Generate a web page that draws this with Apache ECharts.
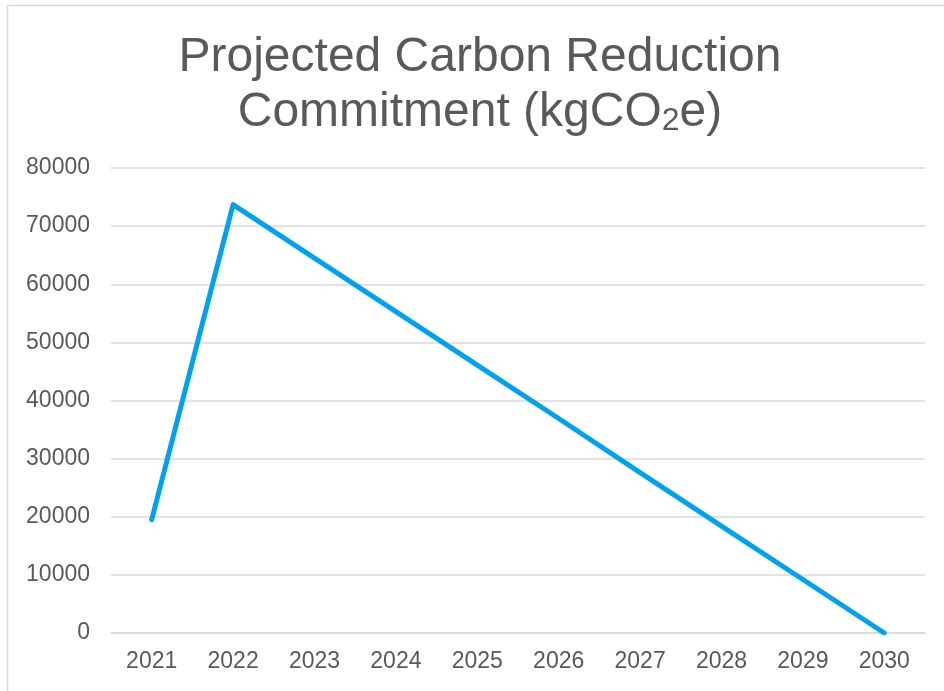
<!DOCTYPE html>
<html>
<head>
<meta charset="utf-8">
<script src="https://cdn.jsdelivr.net/npm/echarts@6/dist/echarts.min.js"></script>
<style>
  html, body { margin: 0; padding: 0; background: #fff; }
  #chart { width: 944px; height: 691px; }
</style>
</head>
<body>
<div id="chart"></div>
<script>
// years on the x axis
const years = ['2021', '2022', '2023', '2024', '2025', '2026', '2027', '2028', '2029', '2030'];
// projected reduction, kgCO2e
const reduction = [19500, 73700, 64500, 55300, 46100, 36900, 27600, 18400, 9200, 0];
const yTicks = [0, 10000, 20000, 30000, 40000, 50000, 60000, 70000, 80000];

const grey = '#595959';
const chart = echarts.init(document.getElementById('chart'));

chart.setOption({
    animation: false,
    backgroundColor: '#fff',
    textStyle: { fontFamily: 'Liberation Sans, Arial, sans-serif' },
    graphic: [{
        type: 'rect',
        shape: { x: 7.5, y: 5.5, width: 960, height: 720 },
        style: { fill: 'none', stroke: '#d9d9d9', lineWidth: 1.5 },
        silent: true
    }],
    title: {
        text: '{t|Projected Carbon Reduction}\n{t|Commitment (kgCO}{s|2}{t|e)}',
        // centred on x=480, a bit right of the page middle like the original
        left: 480,
        textAlign: 'center',
        top: 27,
        padding: 0,
        textStyle: {
            rich: {
                t: { fontSize: 48, color: grey, lineHeight: 55, fontWeight: 'normal', fontFamily: 'Liberation Sans', verticalAlign: 'bottom' },
                s: { fontSize: 32, color: grey, lineHeight: 44, fontWeight: 'normal', fontFamily: 'Liberation Sans', verticalAlign: 'bottom' }
            }
        }
    },
    grid: { left: 111, right: 19, top: 168, bottom: 58 },
    xAxis: {
        type: 'category',
        data: years,
        boundaryGap: true,
        axisLine: { show: true, lineStyle: { color: '#d9d9d9', width: 1.5 } },
        axisTick: { show: false },
        axisLabel: { color: grey, fontSize: 23, margin: 17 }
    },
    yAxis: {
        type: 'value',
        min: yTicks[0],
        max: yTicks[yTicks.length - 1],
        interval: 10000,
        axisLine: { show: false },
        axisTick: { show: false },
        axisLabel: { color: grey, fontSize: 23, margin: 21, formatter: v => String(v) },
        splitLine: { lineStyle: { color: '#d9d9d9', width: 1.5 } }
    },
    series: [{
        type: 'line',
        data: reduction,
        symbol: 'none',
        lineStyle: { color: '#00A2F0', width: 5, cap: 'round', join: 'round' }
    }]
});
</script>
</body>
</html>
